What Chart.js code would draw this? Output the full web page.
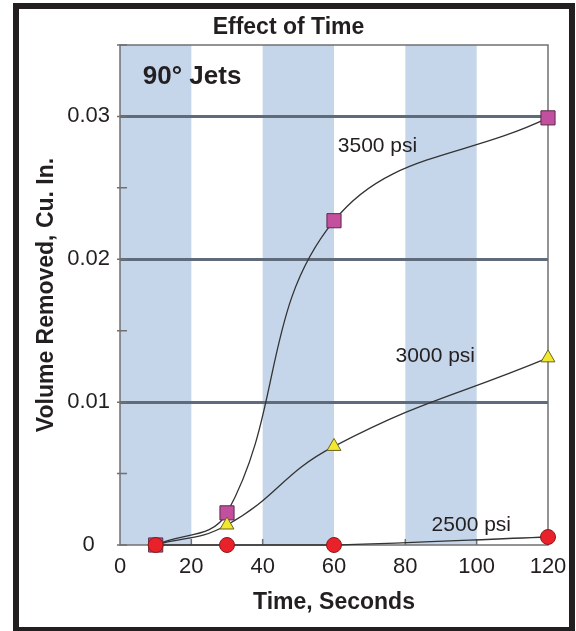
<!DOCTYPE html>
<html>
<head>
<meta charset="utf-8">
<script src="https://cdn.jsdelivr.net/npm/chart.js@4.4.1/dist/chart.umd.min.js"></script>
<style>
  html, body { margin: 0; padding: 0; background: #fff; }
  #wrap { width: 576px; height: 631px; position: relative; }
</style>
</head>
<body>
<div id="wrap"><canvas id="chart"></canvas></div>
<script>
// data
const times = [10, 30, 60, 120];
const psi2500 = [0, 0, 0, 0.00056];
const psi3000 = [0, 0.0014, 0.0069, 0.0131];
const psi3500 = [0, 0.00225, 0.0227, 0.0299];
const seriesNames = ["2500 psi", "3000 psi", "3500 psi"];
const bands = [[0, 20], [40, 60], [80, 100]];
const yLabels = ["0", "0.01", "0.02", "0.03"];

const font = "'Liberation Sans', Arial, sans-serif";
const ink = "#231f20";

function pts(ys) {
    return times.map((t, i) => ({ x: t, y: ys[i] }));
}

// bands, frame, tick marks and the text notes
const decor = {
    id: "decor",
    beforeDraw(chart) {
        const { ctx, chartArea: a, scales } = chart;
        const x = scales.x;
        ctx.save();
        ctx.fillStyle = "#c5d5ea";
        bands.forEach(b => {
            const l = x.getPixelForValue(b[0]);
            const r = x.getPixelForValue(b[1]);
            ctx.fillRect(l, a.top, r - l, a.bottom - a.top);
        });
        ctx.lineWidth = 6;
        ctx.strokeStyle = ink;
        ctx.strokeRect(16, 6, 556, 624);
        ctx.restore();
    },
    beforeDatasetsDraw(chart) {
        const { ctx, chartArea: a, scales } = chart;
        ctx.save();
        ctx.strokeStyle = "#707070";
        ctx.lineWidth = 1.5;
        ctx.strokeRect(a.left, a.top, a.right - a.left, a.bottom - a.top);
        ctx.beginPath();
        scales.y.ticks.forEach(t => {
            const py = scales.y.getPixelForValue(t.value);
            ctx.moveTo(a.left - 3, py);
            ctx.lineTo(a.left + 7, py);
        });
        scales.x.ticks.forEach(t => {
            if (t.value <= 0 || t.value >= 120) return;
            const px = scales.x.getPixelForValue(t.value);
            ctx.moveTo(px, a.bottom);
            ctx.lineTo(px, a.bottom - 6);
        });
        ctx.stroke();
        ctx.restore();
    },
    afterDatasetsDraw(chart) {
        const { ctx, scales } = chart;
        const X = v => scales.x.getPixelForValue(v);
        const Y = v => scales.y.getPixelForValue(v);
        ctx.save();
        ctx.fillStyle = ink;
        ctx.textBaseline = "middle";
        ctx.font = "bold 26px " + font;
        ctx.textAlign = "left";
        ctx.fillText("90° Jets", X(6.4), Y(0.0328));
        ctx.font = "21px " + font;
        ctx.textAlign = "center";
        ctx.fillText(seriesNames[2], X(72.2), Y(0.0279));
        ctx.fillText(seriesNames[1], X(88.4), Y(0.0132));
        ctx.fillText(seriesNames[0], X(98.5), Y(0.0014));
        ctx.restore();
    }
};

new Chart(document.getElementById("chart"), {
    type: "line",
    data: {
        datasets: [
            {
                label: seriesNames[0],
                data: pts(psi2500),
                borderColor: "#333333",
                borderWidth: 1.3,
                tension: 0.4,
                pointStyle: "circle",
                pointRadius: 7.5,
                pointBackgroundColor: "#e8212a",
                pointBorderColor: "#8b1a1a",
                pointBorderWidth: 1,
                clip: false
            },
            {
                label: seriesNames[1],
                data: pts(psi3000),
                borderColor: "#333333",
                borderWidth: 1.3,
                tension: 0.45,
                pointStyle: "triangle",
                pointRadius: 8,
                pointBackgroundColor: "#f2e830",
                pointBorderColor: "#6b6520",
                pointBorderWidth: 1,
                clip: false
            },
            {
                label: seriesNames[2],
                data: pts(psi3500),
                borderColor: "#333333",
                borderWidth: 1.3,
                tension: 0.4,
                pointStyle: "rect",
                pointRadius: 10,
                pointBackgroundColor: "#c3509f",
                pointBorderColor: "#5a2a4a",
                pointBorderWidth: 1,
                clip: false
            }
        ]
    },
    options: {
        responsive: true,
        maintainAspectRatio: false,
        animation: false,
        events: [],
        layout: { padding: { left: 29, right: 28, top: 0, bottom: 10 } },
        plugins: {
            legend: { display: false },
            tooltip: { enabled: false },
            title: {
                display: true,
                text: "Effect of Time",
                color: ink,
                font: { family: font, size: 23, weight: "bold" },
                padding: { top: 14, bottom: 3.4 }
            }
        },
        scales: {
            x: {
                type: "linear",
                min: 0,
                max: 120,
                afterFit: s => { s.height = 76; },
                ticks: {
                    stepSize: 20,
                    padding: 1,
                    color: ink,
                    font: { family: font, size: 22 }
                },
                grid: { display: false },
                border: { display: false },
                title: {
                    display: true,
                    text: "Time, Seconds",
                    color: ink,
                    font: { family: font, size: 23, weight: "bold" },
                    padding: { top: 4, bottom: 5 }
                }
            },
            y: {
                min: 0,
                max: 0.035,
                afterFit: s => { s.width = 91; },
                ticks: {
                    stepSize: 0.005,
                    padding: 10,
                    crossAlign: "center",
                    color: ink,
                    font: { family: font, size: 22 },
                    callback: v => {
                        const k = Math.round(v * 1000);
                        return k % 10 === 0 ? yLabels[k / 10] : "";
                    }
                },
                grid: {
                    drawTicks: false,
                    lineWidth: 3,
                    color: c => {
                        const k = Math.round(c.tick.value * 1000);
                        return (k % 10 === 0 && k > 0) ? "#5f6b7a" : "rgba(0,0,0,0)";
                    }
                },
                border: { display: false },
                title: {
                    display: true,
                    text: "Volume Removed, Cu. In.",
                    color: ink,
                    font: { family: font, size: 23, weight: "bold" },
                    padding: { top: 4, bottom: 4 }
                }
            }
        }
    },
    plugins: [decor]
});
</script>
</body>
</html>
